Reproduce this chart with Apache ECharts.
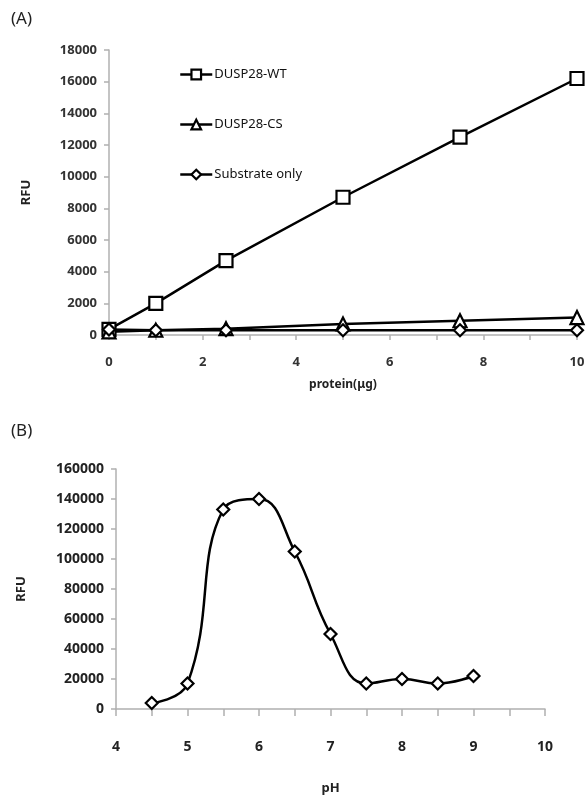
<!DOCTYPE html>
<html>
<head>
<meta charset="utf-8">
<script src="https://cdn.jsdelivr.net/npm/echarts@6/dist/echarts.min.js"></script>
<style>
  html, body { margin: 0; padding: 0; background: #fff; }
  #chart { width: 588px; height: 799px; }
</style>
</head>
<body>
<div id="chart"></div>
<script>
// (A) protein dose
const proteinAmounts = [0, 1, 2.5, 5, 7.5, 10]
const wtValues = [350, 2000, 4700, 8700, 12500, 16200]
const csValues = [200, 300, 400, 700, 900, 1100]
const substrateValues = [350, 300, 300, 300, 300, 300]
const seriesNames = ['DUSP28-WT', 'DUSP28-CS', 'Substrate only']

// (B) pH profile
const phValues = [4.5, 5, 5.5, 6, 6.5, 7, 7.5, 8, 8.5, 9]
const phRfu = [4000, 17000, 133000, 140000, 105000, 50000, 17000, 20000, 17000, 22000]

const font = 'Noto Sans'
const axisGray = '#b0b0b0'

function pairs(xs, ys) {
  return xs.map((x, i) => [x, ys[i]])
}

const lineSeries = (name, data, symbol, size, axisIdx) => ({
  name: name,
  type: 'line',
  xAxisIndex: axisIdx,
  yAxisIndex: axisIdx,
  data: data,
  symbol: symbol,
  symbolSize: size,
  lineStyle: { color: '#000', width: 2.5 },
  itemStyle: { color: '#fff', borderColor: '#000', borderWidth: 2.2 },
  z: 3
})

const plain = v => String(v)

const chart = echarts.init(document.getElementById('chart'))
chart.setOption({
  animation: false,
  backgroundColor: '#fff',
  textStyle: { fontFamily: font },
  title: [
    { text: '(A)', left: 6, top: 6, textStyle: { fontSize: 17, fontWeight: 'normal', color: '#222' } },
    { text: '(B)', left: 6, top: 418, textStyle: { fontSize: 17, fontWeight: 'normal', color: '#222' } }
  ],
  legend: {
    orient: 'vertical',
    left: 174,
    top: 63,
    itemGap: 37,
    itemWidth: 32,
    itemHeight: 12,
    data: seriesNames,
    lineStyle: { width: 2.5, color: '#000' },
    itemStyle: { borderWidth: 2.2 },
    textStyle: { fontSize: 13, color: '#111', fontFamily: font, padding: [0, 0, 0, -3] }
  },
  grid: [
    { left: 109, top: 50, width: 468, height: 285 },
    { left: 116, top: 469, width: 429, height: 240 }
  ],
  xAxis: [
    {
      gridIndex: 0, type: 'value', min: 0, max: 10, interval: 1,
      name: 'protein(μg)', nameLocation: 'middle', nameGap: 44,
      nameTextStyle: { fontWeight: 'bold', fontSize: 12, color: '#222' },
      axisLine: { lineStyle: { color: axisGray, width: 1.5 } },
      axisTick: { lineStyle: { color: axisGray, width: 1.5 }, length: 5 },
      axisLabel: {
        margin: 21, fontSize: 13, fontWeight: 'bold', color: '#333',
        formatter: v => (v % 2 === 0 ? String(v) : '')
      },
      splitLine: { show: false }
    },
    {
      gridIndex: 1, type: 'value', min: 4, max: 10, interval: 0.5,
      name: 'pH', nameLocation: 'middle', nameGap: 73,
      nameTextStyle: { fontWeight: 'bold', fontSize: 13, color: '#222' },
      axisLine: { lineStyle: { color: axisGray, width: 1.5 } },
      axisTick: { lineStyle: { color: axisGray, width: 1.5 }, length: 7 },
      axisLabel: {
        margin: 31, fontSize: 14, fontWeight: 'bold', color: '#222',
        formatter: v => (Number.isInteger(v) ? String(v) : '')
      },
      splitLine: { show: false }
    }
  ],
  yAxis: [
    {
      gridIndex: 0, type: 'value', min: 0, max: 18000, interval: 2000,
      name: 'RFU', nameLocation: 'middle', nameGap: 76,
      nameTextStyle: { fontWeight: 'bold', fontSize: 13, color: '#222' },
      axisLine: { show: true, lineStyle: { color: axisGray, width: 1.5 } },
      axisTick: { show: true, lineStyle: { color: axisGray, width: 1.5 }, length: 5 },
      axisLabel: { margin: 12, fontSize: 13, fontWeight: 'bold', color: '#333', formatter: plain },
      splitLine: { show: false }
    },
    {
      gridIndex: 1, type: 'value', min: 0, max: 160000, interval: 20000,
      name: 'RFU', nameLocation: 'middle', nameGap: 88,
      nameTextStyle: { fontWeight: 'bold', fontSize: 13, color: '#222' },
      axisLine: { show: true, lineStyle: { color: axisGray, width: 1.5 } },
      axisTick: { show: true, lineStyle: { color: axisGray, width: 1.5 }, length: 5 },
      axisLabel: { margin: 12, fontSize: 14, fontWeight: 'bold', color: '#222', formatter: plain },
      splitLine: { show: false }
    }
  ],
  series: [
    lineSeries(seriesNames[0], pairs(proteinAmounts, wtValues), 'rect', 13, 0),
    lineSeries(seriesNames[1], pairs(proteinAmounts, csValues), 'triangle', 13, 0),
    lineSeries(seriesNames[2], pairs(proteinAmounts, substrateValues), 'diamond', 12, 0),
    Object.assign(lineSeries('pH', pairs(phValues, phRfu), 'diamond', 12, 1), { smooth: 0.45 })
  ]
})
</script>
</body>
</html>
